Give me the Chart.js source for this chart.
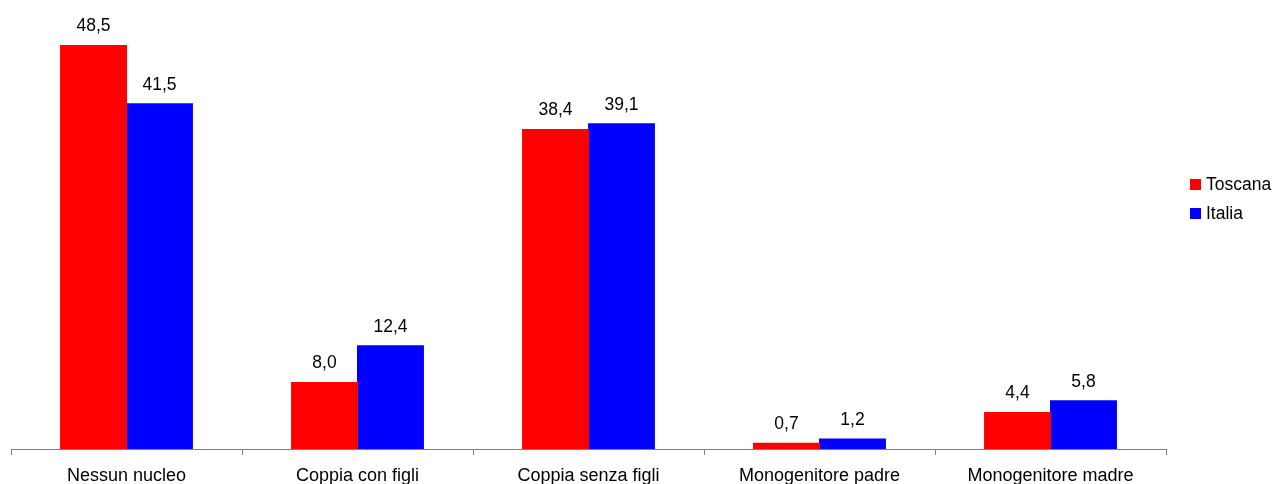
<!DOCTYPE html>
<html>
<head>
<meta charset="utf-8">
<script src="https://cdn.jsdelivr.net/npm/chart.js@4/dist/chart.umd.min.js"></script>
<style>
    html, body { margin: 0; padding: 0; background: #fff; }
    #wrap { width: 1275px; height: 484px; position: relative; }
</style>
</head>
<body>
<div id="wrap"><canvas id="chart"></canvas></div>
<script>
const categories = ['Nessun nucleo', 'Coppia con figli', 'Coppia senza figli', 'Monogenitore padre', 'Monogenitore madre'];
const toscana = [48.5, 8.0, 38.4, 0.7, 4.4];
const italia = [41.5, 12.4, 39.1, 1.2, 5.8];
const seriesNames = ['Toscana', 'Italia'];

const FONT = "'Liberation Sans', Arial, sans-serif";

function formatValue(v) {
    return v.toFixed(1).replace('.', ',');
}

// value labels above each bar
const valueLabels = {
    id: 'valueLabels',
    afterDatasetsDraw(chart) {
        const ctx = chart.ctx;
        ctx.save();
        ctx.font = '17.5px ' + FONT;
        ctx.fillStyle = '#000';
        ctx.textAlign = 'center';
        ctx.textBaseline = 'middle';
        chart.data.datasets.forEach((ds, i) => {
            chart.getDatasetMeta(i).data.forEach((bar, j) => {
                ctx.fillText(formatValue(ds.data[j]), bar.x, bar.y - 19);
            });
        });
        ctx.restore();
    }
};

// legend on the right
const sideLegend = {
    id: 'sideLegend',
    afterDraw(chart) {
        const ctx = chart.ctx;
        ctx.save();
        ctx.font = '17.5px ' + FONT;
        ctx.textAlign = 'left';
        ctx.textBaseline = 'middle';
        chart.data.datasets.forEach((ds, i) => {
            const cy = 185 + i * 29;
            ctx.fillStyle = ds.backgroundColor;
            ctx.fillRect(1190, cy - 6, 11, 11);
            ctx.fillStyle = '#000';
            ctx.fillText(ds.label, 1206, cy);
        });
        ctx.restore();
    }
};

new Chart(document.getElementById('chart').getContext('2d'), {
    type: 'bar',
    data: {
        labels: categories,
        datasets: [
            { label: seriesNames[0], data: toscana, backgroundColor: '#FF0000' },
            { label: seriesNames[1], data: italia, backgroundColor: '#0000FF' }
        ]
    },
    options: {
        responsive: true,
        maintainAspectRatio: false,
        animation: false,
        layout: { padding: { left: 11, right: 109, top: 33, bottom: 0 } },
        datasets: {
            bar: { categoryPercentage: 0.571, barPercentage: 1.0, inflateAmount: 0.5 }
        },
        plugins: {
            legend: { display: false },
            tooltip: { enabled: false }
        },
        scales: {
            x: {
                afterFit: function(scale) { scale.height = 35; },
                grid: {
                    offset: true,
                    drawOnChartArea: false,
                    drawTicks: true,
                    tickLength: 6,
                    color: '#808080'
                },
                border: { display: true, color: '#808080', width: 1 },
                ticks: {
                    color: '#000',
                    padding: 10,
                    maxRotation: 0,
                    font: { family: FONT, size: 18 }
                }
            },
            y: {
                display: false,
                min: 0,
                max: 50
            }
        }
    },
    plugins: [valueLabels, sideLegend]
});
</script>
</body>
</html>
